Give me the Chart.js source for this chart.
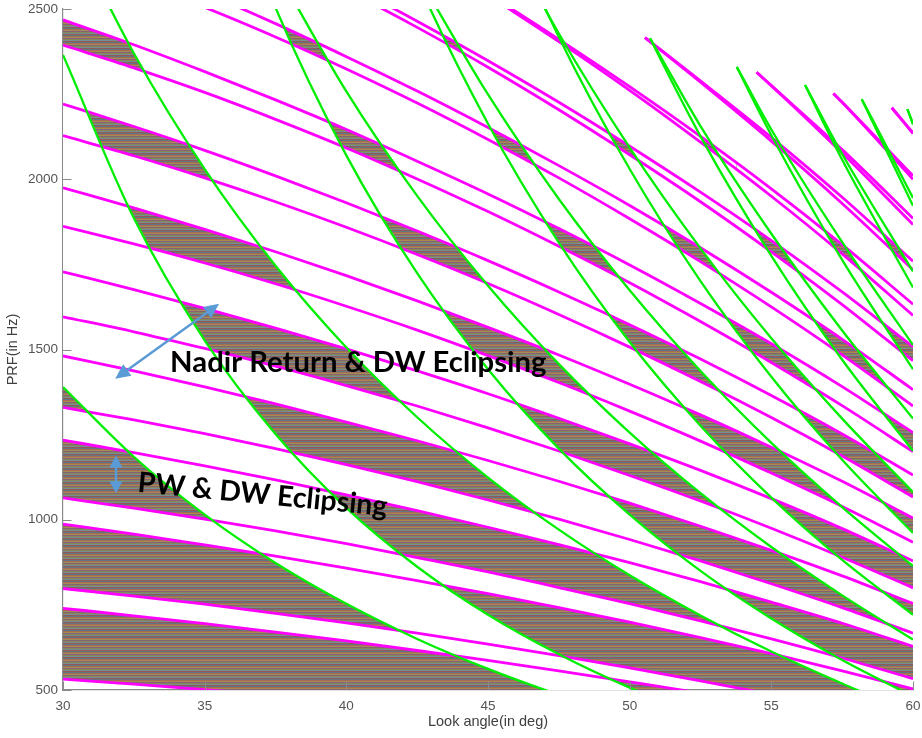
<!DOCTYPE html>
<html>
<head>
<meta charset="utf-8">
<title>PRF vs look angle timing diagram</title>
<script src="https://cdn.jsdelivr.net/npm/chart.js@4.4.1/dist/chart.umd.min.js"></script>
<style>
  html, body { margin: 0; padding: 0; background: #ffffff; }
  canvas { display: block; }
</style>
</head>
<body>
<canvas id="chart" width="922" height="738"></canvas>
<script>
// axis ticks
const xTicks = [30, 35, 40, 45, 50, 55, 60];
const yTicks = [500, 1000, 1500, 2000, 2500];

const angles = [30, 32.5, 35, 37.5, 40, 42.5, 45, 47.5, 50, 52.5, 55, 57.5, 60];

// transmit (PW) eclipse edges, PRF in Hz. pwB<n> = bottom of free band n, pwA<n+1> = top of it
const pwB2  = [532, 517, 501, 484, 465, 445, 423, 401, 377, 352, 325, 297, 267];
const pwA3  = [740, 718, 695, 670, 644, 616, 587, 556, 524, 491, 455, 417, 377];
const pwB3  = [798, 776, 752, 725, 697, 667, 635, 601, 565, 527, 487, 445, 400];
const pwA4  = [987, 958, 926, 893, 858, 821, 783, 742, 699, 654, 607, 556, 503];
const pwB4  = [1064, 1034, 1002, 967, 930, 889, 847, 801, 754, 703, 650, 594, 533];
const pwA5  = [1234, 1197, 1158, 1117, 1073, 1027, 978, 927, 874, 818, 758, 696, 628];
const pwB5  = [1330, 1293, 1253, 1209, 1162, 1112, 1058, 1002, 942, 879, 812, 742, 667];
const pwA6  = [1481, 1437, 1390, 1340, 1287, 1232, 1174, 1113, 1049, 981, 910, 835, 754];
const pwB6  = [1596, 1552, 1503, 1451, 1394, 1334, 1270, 1202, 1130, 1055, 975, 890, 800];
const pwA7  = [1728, 1676, 1621, 1563, 1502, 1437, 1370, 1298, 1223, 1145, 1062, 974, 879];
const pwB7  = [1862, 1810, 1754, 1693, 1627, 1557, 1482, 1403, 1319, 1231, 1137, 1039, 934];
const pwA8  = [1975, 1916, 1853, 1787, 1717, 1643, 1565, 1484, 1398, 1308, 1213, 1113, 1005];
const pwB8  = [2128, 2069, 2004, 1934, 1859, 1779, 1694, 1603, 1507, 1406, 1300, 1187, 1067];
const pwA9  = [2221, 2155, 2085, 2010, 1931, 1848, 1761, 1669, 1573, 1472, 1365, 1252, 1131];
const pwB9  = [2394, 2327, 2255, 2176, 2092, 2001, 1905, 1803, 1696, 1582, 1462, 1335, 1200];
const pwA10 = [2468, 2395, 2316, 2233, 2146, 2053, 1957, 1855, 1748, 1635, 1517, 1391, 1256];
const pwB10 = [2660, 2586, 2505, 2418, 2324, 2224, 2117, 2004, 1884, 1758, 1625, 1484, 1334];
const pwA11 = [2715, 2634, 2548, 2457, 2360, 2259, 2152, 2040, 1923, 1799, 1668, 1530, 1382];
const pwB11 = [2926, 2845, 2756, 2660, 2556, 2446, 2329, 2204, 2072, 1934, 1787, 1632, 1467];
const pwA12 = [2962, 2873, 2779, 2680, 2575, 2464, 2348, 2226, 2097, 1962, 1820, 1669, 1508];
const pwB12 = [3192, 3103, 3006, 2902, 2789, 2668, 2540, 2404, 2261, 2109, 1950, 1781, 1600];
const pwA13 = [3209, 3113, 3011, 2903, 2789, 2669, 2544, 2411, 2272, 2126, 1972, 1808, 1633];
// upper bands only open part way across
const pwX13 = [50.54, 52.5, 55, 57.5, 60];
const pwB13 = [2416, 2285, 2112, 1929, 1734];
const pwA14 = [2416, 2289, 2123, 1947, 1759];
const pwX14 = [54.48, 55, 57.5, 60];
const pwB14 = [2314, 2275, 2077, 1867];
const pwA15 = [2314, 2275, 2087, 1885];
const pwX15 = [57.19, 57.5, 60];
const pwB15 = [2252, 2226, 2000];
const pwA16 = [2252, 2226, 2010];
const pwX16 = [59.25, 60];
const pwB16 = [2210, 2134];
const pwA17 = [2210, 2136];

// nadir return edges (green). zone j lies between nadLo<j> and nadHi<j>
const nadLo1 = [1390, 1185, 1015, 873, 753, 650, 562, 486, 419, 359, 307, 259, 216];
const nadHi1 = [2365, 1886, 1527, 1252, 1035, 862, 721, 605, 507, 425, 355, 294, 240];
const nadLo2 = [2780, 2370, 2030, 1746, 1506, 1301, 1124, 971, 837, 719, 613, 519, 432];
const nadHi2 = [4730, 3773, 3055, 2504, 2070, 1724, 1442, 1209, 1015, 850, 710, 588, 481];
const nadX3  = [37.5, 40, 42.5, 45, 47.5, 50, 52.5, 55, 57.5, 60];
const nadLo3 = [2619, 2258, 1951, 1687, 1457, 1256, 1078, 920, 778, 648];
const nadHi3 = [3756, 3106, 2585, 2163, 1814, 1522, 1276, 1065, 882, 721];
const nadX4  = [42.5, 45, 47.5, 50, 52.5, 55, 57.5, 60];
const nadLo4 = [2601, 2249, 1942, 1674, 1437, 1226, 1037, 864];
const nadHi4 = [3447, 2884, 2418, 2030, 1701, 1420, 1176, 961];
const nadXLo5 = [45, 47.5, 50, 52.5, 55, 57.5, 60];
const nadLo5  = [2811, 2428, 2093, 1797, 1533, 1297, 1081];
const nadXHi5 = [45, 47.5, 50, 50.72, 52.5, 55, 57.5, 60];
const nadHi5  = [3605, 3023, 2537, 2414, 2126, 1775, 1470, 1202];
const nadXLo6 = [50, 50.72, 52.5, 55, 57.5, 60];
const nadLo6  = [2511, 2414, 2156, 1840, 1556, 1297];
const nadXHi6 = [50, 52.5, 53.78, 55, 57.5, 60];
const nadHi6  = [3044, 2551, 2330, 2129, 1763, 1442];
const nadXLo7 = [52.5, 53.78, 55, 57.5, 60];
const nadLo7  = [2515, 2330, 2146, 1815, 1513];
const nadXHi7 = [52.5, 55, 56.19, 57.5, 60];
const nadHi7  = [2976, 2484, 2277, 2057, 1682];
const nadXLo8 = [52.5, 55, 56.19, 57.5, 60];
const nadLo8  = [2874, 2453, 2277, 2074, 1729];
const nadXHi8 = [52.5, 55, 57.5, 58.19, 60];
const nadHi8  = [3402, 2839, 2351, 2235, 1922];
const nadXLo9 = [55, 57.5, 58.19, 60];
const nadLo9  = [2759, 2334, 2235, 1945];
const nadXHi9 = [55, 57.5, 59.8, 60];
const nadHi9  = [3194, 2645, 2206, 2163];
const nadXLo10 = [57.5, 59.8, 60];
const nadLo10  = [2593, 2206, 2161];
const nadX11  = [57.5, 60];
const nadHi10 = [2939, 2403];
const nadLo11 = [2852, 2377];
const nadHi11 = [3233, 2643];

// annotation anchors, in axis units (deg, Hz)
const arrowLong  = [[31.84, 1414], [35.51, 1634]];
const arrowShort = [[31.87, 1189], [31.87, 1078]];
const labelNadir = {text: 'Nadir Return & DW Eclipsing', x0: 33.78, x1: 47.07, y: 1435, angle: 0};
const labelPw    = {text: 'PW & DW Eclipsing', x0: 32.61, x1: 41.42, y: 1082, angle: 5.5};

const MAGENTA = '#ff00ff';
const GREEN = '#00ee00';
const canvas = document.getElementById('chart');

// feasible areas are drawn in MATLAB with many thin coloured lines, so use a striped tile
function stripes() {
    const rows = ['#617683', '#a26d52', '#a88954', '#866275', '#848859', '#788d92', '#915a58'];
    const tile = document.createElement('canvas');
    tile.width = 4;
    tile.height = rows.length;
    const c = tile.getContext('2d');
    rows.forEach((col, i) => {
        c.fillStyle = col;
        c.fillRect(0, i, 4, 1);
    });
    return canvas.getContext('2d').createPattern(tile, 'repeat');
}
const feasible = stripes();

const datasets = [];
function addCurve(xs, ys, colour, width, from, fillTo, fillColour) {
    datasets.push({
        data: ys.map((y, i) => ({x: xs[i], y: y})),
        borderColor: colour,
        borderWidth: width,
        backgroundColor: fillColour || 'rgba(0,0,0,0)',
        fill: fillTo === undefined ? false : fillTo,
        segment: {
            // the curve is only plotted from where its band opens
            borderColor: ctx => ctx.p0.parsed.x < from - 1e-6 ? 'rgba(0,0,0,0)' : undefined
        }
    });
    return datasets.length - 1;
}

// nadir zones first: their white fill goes over the striped bands, green lines on top
const nadirZones = [
    [angles, nadLo1, 30, angles, nadHi1, 30],
    [angles, nadLo2, 30, angles, nadHi2, 30],
    [nadX3, nadLo3, 37.5, nadX3, nadHi3, 37.5],
    [nadX4, nadLo4, 42.5, nadX4, nadHi4, 42.5],
    [nadXLo5, nadLo5, 45, nadXHi5, nadHi5, 50.72],
    [nadXLo6, nadLo6, 50.72, nadXHi6, nadHi6, 53.78],
    [nadXLo7, nadLo7, 53.78, nadXHi7, nadHi7, 56.19],
    [nadXLo8, nadLo8, 56.19, nadXHi8, nadHi8, 58.19],
    [nadXLo9, nadLo9, 58.19, nadXHi9, nadHi9, 59.8],
    [nadXLo10, nadLo10, 59.8, nadX11, nadHi10, Infinity],
    [nadX11, nadLo11, Infinity, nadX11, nadHi11, Infinity]
];
nadirZones.forEach(z => {
    const lo = addCurve(z[0], z[1], GREEN, 2.3, z[2]);
    addCurve(z[3], z[4], GREEN, 2.3, z[5], lo, '#ffffff');
});

// transmit bands: striped fill between bottom and top edge
const pwBands = [
    [angles, pwB2, pwA3], [angles, pwB3, pwA4], [angles, pwB4, pwA5],
    [angles, pwB5, pwA6], [angles, pwB6, pwA7], [angles, pwB7, pwA8],
    [angles, pwB8, pwA9], [angles, pwB9, pwA10], [angles, pwB10, pwA11],
    [angles, pwB11, pwA12], [angles, pwB12, pwA13], [pwX13, pwB13, pwA14],
    [pwX14, pwB14, pwA15], [pwX15, pwB15, pwA16], [pwX16, pwB16, pwA17]
];
pwBands.forEach(b => {
    const lo = addCurve(b[0], b[1], MAGENTA, 2.8, b[0][0]);
    addCurve(b[0], b[2], MAGENTA, 2.8, b[0][0], lo, feasible);
});

// MATLAB style ticks pointing into the plot
const innerTicks = {
    id: 'innerTicks',
    afterDatasetsDraw(chart) {
        const {ctx, chartArea, scales} = chart;
        ctx.save();
        ctx.strokeStyle = '#8a8a8a';
        ctx.lineWidth = 1;
        ctx.beginPath();
        xTicks.forEach(v => {
            const px = Math.round(scales.x.getPixelForValue(v)) + 0.5;
            ctx.moveTo(px, chartArea.bottom);
            ctx.lineTo(px, chartArea.bottom - 8.5);
        });
        yTicks.forEach(v => {
            const py = Math.round(scales.y.getPixelForValue(v)) + 0.5;
            ctx.moveTo(chartArea.left, py);
            ctx.lineTo(chartArea.left + 8.5, py);
        });
        ctx.stroke();
        ctx.restore();
    }
};

function arrowHead(ctx, tipX, tipY, fromX, fromY, len, half) {
    const a = Math.atan2(tipY - fromY, tipX - fromX);
    ctx.beginPath();
    ctx.moveTo(tipX, tipY);
    ctx.lineTo(tipX - len * Math.cos(a) + half * Math.sin(a), tipY - len * Math.sin(a) - half * Math.cos(a));
    ctx.lineTo(tipX - len * Math.cos(a) - half * Math.sin(a), tipY - len * Math.sin(a) + half * Math.cos(a));
    ctx.closePath();
    ctx.fill();
}

function doubleArrow(ctx, x0, y0, x1, y1, len, half) {
    const d = Math.hypot(x1 - x0, y1 - y0);
    const ux = (x1 - x0) / d, uy = (y1 - y0) / d;
    ctx.beginPath();
    ctx.moveTo(x0 + ux * (len - 2), y0 + uy * (len - 2));
    ctx.lineTo(x1 - ux * (len - 2), y1 - uy * (len - 2));
    ctx.stroke();
    arrowHead(ctx, x0, y0, x1, y1, len, half);
    arrowHead(ctx, x1, y1, x0, y0, len, half);
}

function fittedText(ctx, label, sx, sy) {
    const x0 = sx(label.x0), x1 = sx(label.x1);
    const ang = label.angle * Math.PI / 180;
    const want = (x1 - x0) / Math.cos(ang);
    ctx.font = 'bold 20px Lato';
    const size = 20 * want / ctx.measureText(label.text).width;
    ctx.font = 'bold ' + size.toFixed(2) + 'px Lato';
    ctx.save();
    ctx.translate(x0, sy(label.y));
    ctx.rotate(ang);
    ctx.fillStyle = '#000000';
    ctx.textBaseline = 'alphabetic';
    ctx.textAlign = 'left';
    ctx.fillText(label.text, 0, 0);
    ctx.restore();
}

const notes = {
    id: 'notes',
    afterDraw(chart) {
        const {ctx, scales} = chart;
        const sx = v => scales.x.getPixelForValue(v);
        const sy = v => scales.y.getPixelForValue(v);
        ctx.save();
        ctx.strokeStyle = '#5b9bd5';
        ctx.fillStyle = '#5b9bd5';
        ctx.lineWidth = 2.5;
        doubleArrow(ctx, sx(arrowLong[0][0]), sy(arrowLong[0][1]), sx(arrowLong[1][0]), sy(arrowLong[1][1]), 15, 7);
        doubleArrow(ctx, sx(arrowShort[0][0]), sy(arrowShort[0][1]), sx(arrowShort[1][0]), sy(arrowShort[1][1]), 12, 6.5);
        fittedText(ctx, labelNadir, sx, sy);
        fittedText(ctx, labelPw, sx, sy);
        ctx.restore();
    }
};

Chart.defaults.font.family = '"Liberation Sans", Arial, sans-serif';

new Chart(canvas, {
    type: 'line',
    data: { datasets: datasets },
    options: {
        responsive: false,
        animation: false,
        devicePixelRatio: 1,
        events: [],
        layout: { padding: { top: 9, right: 9, left: 0, bottom: 0 } },
        elements: {
            point: { radius: 0 },
            line: { cubicInterpolationMode: 'monotone' }
        },
        plugins: {
            legend: { display: false },
            tooltip: { enabled: false },
            filler: { drawTime: 'beforeDatasetsDraw', propagate: false }
        },
        scales: {
            x: {
                type: 'linear',
                min: 30,
                max: 60,
                afterBuildTicks: s => { s.ticks = xTicks.map(v => ({value: v})); },
                afterFit: s => { s.height = 48; s.paddingLeft = 0; s.paddingRight = 0; },
                ticks: { color: '#555555', font: { size: 13.5 }, padding: 8, callback: v => String(v) },
                grid: { display: false, drawTicks: false },
                border: { display: true, color: '#8a8a8a', width: 1.2 },
                title: {
                    display: true,
                    text: 'Look angle(in deg)',
                    color: '#404040',
                    font: { size: 14.5 },
                    padding: { top: 0, bottom: 7 }
                }
            },
            y: {
                type: 'linear',
                min: 500,
                max: 2500,
                afterBuildTicks: s => { s.ticks = yTicks.map(v => ({value: v})); },
                afterFit: s => { s.width = 63; s.paddingTop = 0; s.paddingBottom = 0; },
                ticks: { color: '#555555', font: { size: 13.5 }, padding: 5, callback: v => String(v) },
                grid: { display: false, drawTicks: false },
                border: { display: true, color: '#8a8a8a', width: 1.2 },
                title: {
                    display: true,
                    text: 'PRF(in Hz)',
                    color: '#404040',
                    font: { size: 14.5 },
                    padding: { top: 4, bottom: 0 }
                }
            }
        }
    },
    plugins: [innerTicks, notes]
});
</script>
</body>
</html>
